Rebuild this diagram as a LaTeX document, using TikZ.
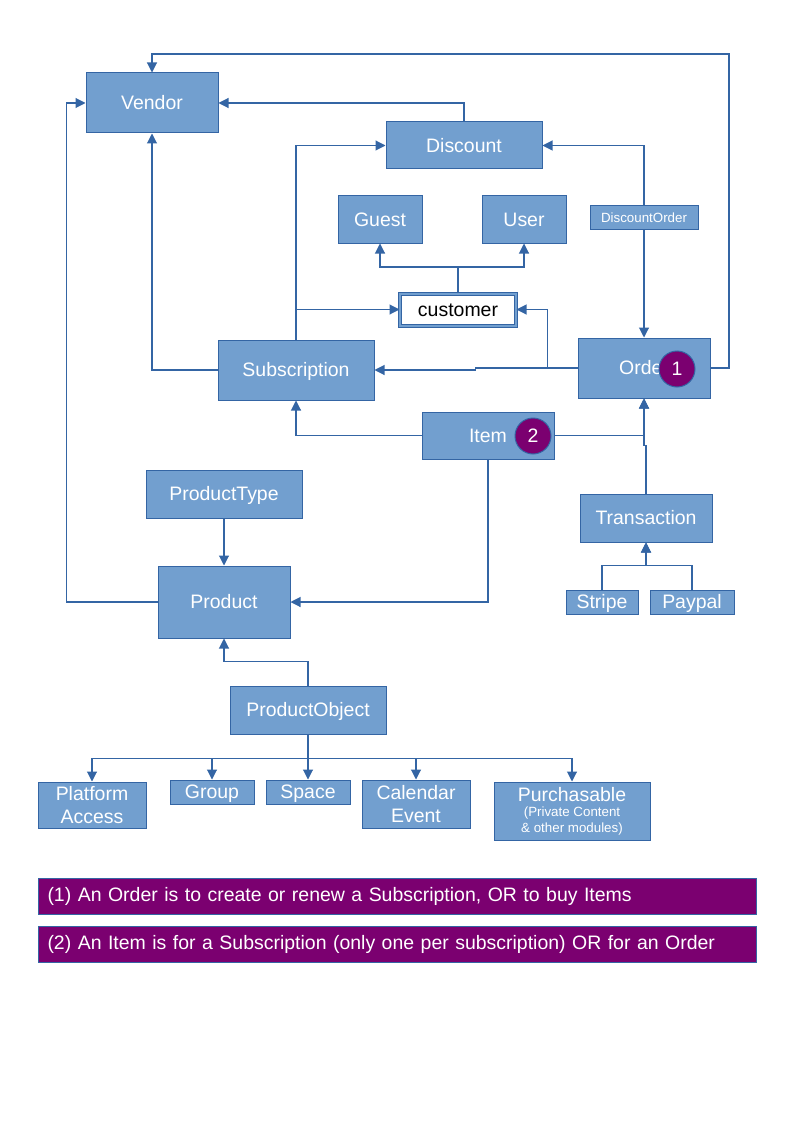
\documentclass[tikz,border=0pt]{standalone}
\usepackage{fontspec}
\setmainfont{Liberation Sans}
\usetikzlibrary{arrows.meta,positioning}
\definecolor{box_fill}{HTML}{729FCF}
\definecolor{box_line}{HTML}{3465A4}
\definecolor{note_purple}{RGB}{123,0,112}
\newcommand{\smallnote}{\fontsize{10}{11}\selectfont}

\begin{document}
\begin{tikzpicture}[x=0.75pt, y=-0.75pt, font=\fontsize{14.6}{17}\selectfont,
    sz/.style 2 args={minimum width=#1*0.75pt, minimum height=#2*0.75pt},
    entity/.style={draw=box_line, fill=box_fill, text=white, inner sep=0pt, line width=0.75pt},
    oneline/.style={text height=13.2pt, text depth=3.1pt},
    customerbox/.style={draw=box_line, double=box_fill, double distance=1.5pt, fill=white,
      text=black, inner sep=0pt, line width=0.75pt, oneline},
    badge/.style={circle, draw=box_line, fill=note_purple, text=white, minimum size=27pt,
      inner sep=0pt, line width=0.75pt},
    note/.style={draw=box_line, fill=note_purple, text=white, anchor=west, align=left,
      text width=525pt, inner xsep=6.75pt, minimum height=27pt, line width=0.75pt},
    link/.style={draw=box_line, line width=0.8pt, -{Triangle[length=7.5pt,width=7.5pt]}},
    small/.style={font=\smallnote, text height=9pt, text depth=2.1pt}]
  \useasboundingbox (0,0) rectangle (794,1123);

  % entities
  \node[entity, oneline, sz={132}{60}] (vendor) at (152,103) {Vendor};
  \node[entity, oneline, sz={156}{47}] (discount) at (464,145.5) {Discount};
  \node[entity, oneline, sz={84}{47}] (guest) at (380,219.5) {Guest};
  \node[entity, oneline, sz={84}{47}] (user) at (524,219.5) {User};
  \node[entity, sz={108}{24}, small] (discountorder) at (644,218) {DiscountOrder};
  \node[customerbox, sz={116}{32}] (customer) at (458,309.5) {customer};
  \node[entity, oneline, sz={156}{60}] (subscription) at (296,370) {Subscription};
  \node[entity, oneline, sz={132}{60}] (order) at (644,368) {Order};
  \node[badge] (badge1) at (677,369) {1};
  \node[entity, oneline, sz={132}{47}] (item) at (488,435.5) {Item};
  \node[badge] (badge2) at (533,436) {2};
  \node[entity, oneline, sz={156}{48}] (producttype) at (224,494) {ProductType};
  \node[entity, oneline, sz={132}{48}] (transaction) at (646,518) {Transaction};
  \node[entity, oneline, sz={72}{24}] (stripe) at (602,602) {Stripe};
  \node[entity, oneline, sz={84}{24}] (paypal) at (692,602) {Paypal};
  \node[entity, oneline, sz={132}{72}] (product) at (224,602) {Product};
  \node[entity, oneline, sz={156}{48}] (productobject) at (308,710) {ProductObject};
  \node[entity, sz={108}{46}, align=center] (platform) at (92,805) {Platform\\Access};
  \node[entity, oneline, sz={84}{24}] (group) at (212,792) {Group};
  \node[entity, oneline, sz={84}{24}] (space) at (308,792) {Space};
  \node[entity, sz={108}{48}, align=center] (calendar) at (416,804) {Calendar\\Event};
  \node[entity, sz={156}{58}, align=center] (purchasable) at (572,811)
    {Purchasable\\[-5.5pt]{\smallnote(Private Content}\\[-5.5pt]{\smallnote\& other modules)}};

  % notes
  \node[note] (note1) at (38,896) {(1) An Order is to create or renew a Subscription, OR to buy Items};
  \node[note] (note2) at (38,944) {(2) An Item is for a Subscription (only one per subscription) OR for an Order};

  % links to Vendor
  \draw[link] (order.east) -| (729,54) -| (vendor.north);
  \draw[link] (discount.north) |- (vendor.east);
  \draw[link] (subscription.west) -| (vendor.south);
  \draw[link] (product.west) -- ++(-91,0) |- (vendor.west);

  % discount, customer
  \draw[link] (subscription.north) |- (discount.west);
  \draw[link] (subscription.north |- customer.west) -- (customer.west);
  \draw[link] (discountorder.north) |- (discount.east);
  \draw[link] (discountorder.south) -- (order.north);
  \draw[link] (customer.north) -- ++(0,-26) -| (guest.south);
  \draw[link] (customer.north) -- ++(0,-26) -| (user.south);
  \draw[link] (order.west) -- ++(-30,0) |- (customer.east);
  \draw[link] (order.west) -- ++(-102,0) |- (subscription.east);

  % item, transaction
  \draw[link] (item.west) -| (subscription.south);
  \draw[link] (item.east) -| (order.south);
  \draw[link] (transaction.north) -- ++(0,-48) -| (order.south);
  \draw[link] (item.south) |- (product.east);
  \draw[link] (stripe.north) -- ++(0,-24) -| (transaction.south);
  \draw[link] (paypal.north) -- ++(0,-24) -| (transaction.south);

  % product
  \draw[link] (producttype.south) -- (product.north);
  \draw[link] (productobject.north) -- ++(0,-24) -| (product.south);
  \foreach \kind in {platform,group,space,calendar,purchasable}
    \draw[link] (productobject.south) -- ++(0,24) -| (\kind.north);
\end{tikzpicture}
\end{document}
